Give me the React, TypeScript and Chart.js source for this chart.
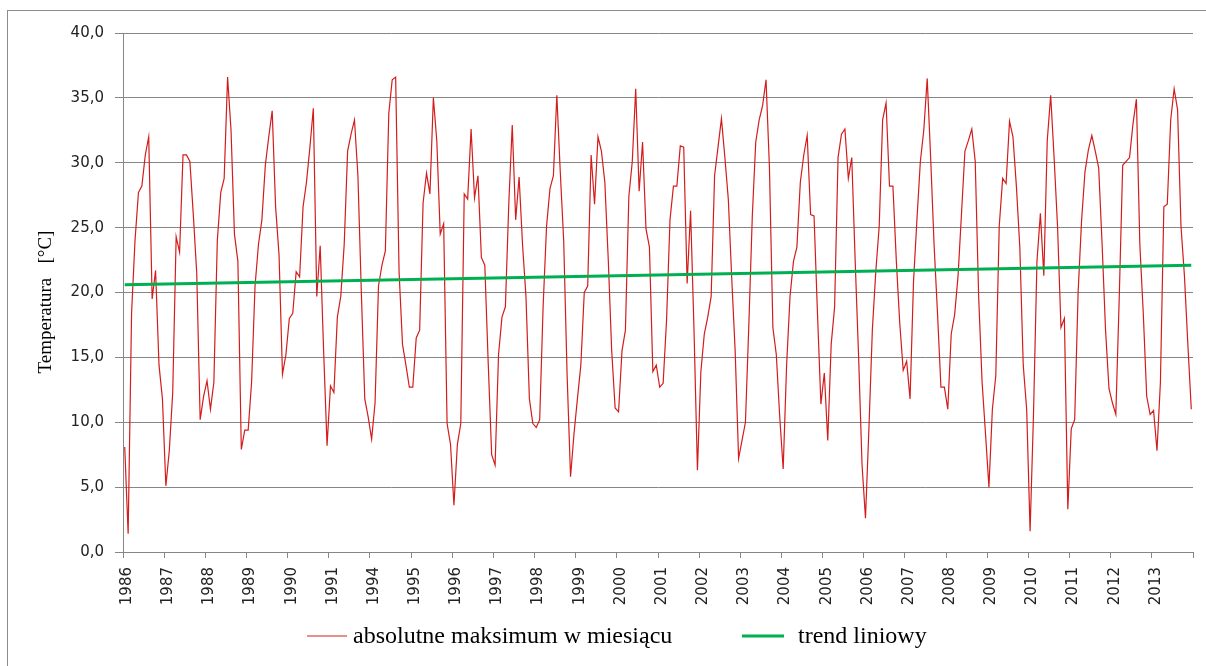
import React, { useEffect, useRef } from 'react';
import { Chart, registerables } from 'chart.js';

Chart.register(...registerables);

// Year labels on the category axis (1992 and 1993 are absent in the source series)
const yearLabels: string[] = [
  '1986', '1987', '1988', '1989', '1990', '1991', '1994', '1995', '1996',
  '1997', '1998', '1999', '2000', '2001', '2002', '2003', '2004', '2005',
  '2006', '2007', '2008', '2009', '2010', '2011', '2012', '2013',
];

// Absolute monthly maximum temperature [°C], 12 values per year, in yearLabels order
const monthlyMax: number[] = [
  8.1, 1.4, 18.4, 24.0, 27.7, 28.2, 30.6, 32.0, 19.5, 21.7, 14.4, 11.8, // 1986
  5.1, 7.8, 12.3, 24.3, 23.1, 30.6, 30.6, 30.1, 26.0, 21.5, 10.2, 12.0, // 1987
  13.2, 11.0, 13.1, 24.0, 27.7, 28.8, 36.6, 32.5, 24.5, 22.4, 7.9, 9.4, // 1988
  9.4, 13.1, 20.5, 23.7, 25.6, 29.8, 32.0, 34.0, 26.6, 22.9, 13.7, 15.2, // 1989
  18.0, 18.4, 21.6, 21.2, 26.6, 28.5, 31.2, 34.2, 19.7, 23.6, 15.5, 8.2, // 1990
  12.8, 12.3, 18.1, 19.7, 23.7, 30.9, 32.2, 33.3, 29.0, 20.0, 11.8, 10.4, // 1991
  8.7, 11.5, 20.5, 22.1, 23.2, 33.8, 36.4, 36.6, 21.6, 16.0, 14.4, 12.7, // 1994
  12.7, 16.5, 17.1, 26.9, 29.2, 27.6, 35.0, 31.7, 24.5, 25.3, 9.9, 8.3, // 1995
  3.6, 8.3, 9.9, 27.6, 27.2, 32.6, 27.3, 29.0, 22.7, 22.1, 14.5, 7.5, // 1996
  6.7, 15.2, 18.1, 18.9, 26.9, 32.9, 25.6, 28.9, 23.7, 19.7, 11.8, 9.9, // 1997
  9.6, 10.2, 18.9, 25.1, 28.0, 29.0, 35.2, 29.3, 24.0, 13.6, 5.8, 9.1, // 1998
  11.8, 14.4, 20.0, 20.5, 30.6, 26.8, 32.0, 30.9, 28.5, 22.5, 15.5, 11.1, // 1999
  10.8, 15.5, 17.1, 27.4, 30.1, 35.7, 27.8, 31.6, 24.9, 23.5, 13.9, 14.4, // 2000
  12.7, 13.0, 17.9, 25.6, 28.2, 28.2, 31.3, 31.2, 20.7, 26.3, 17.1, 6.3, // 2001
  13.9, 16.8, 18.1, 19.7, 29.0, 31.2, 33.4, 30.4, 27.2, 21.1, 15.5, 7.2, // 2002
  8.6, 10.0, 17.6, 25.9, 31.6, 33.3, 34.4, 36.4, 29.6, 17.3, 15.2, 10.4, // 2003
  6.4, 14.4, 19.7, 22.4, 23.5, 28.5, 30.6, 32.1, 26.0, 25.9, 18.4, 11.4, // 2004
  13.8, 8.6, 16.0, 18.9, 30.4, 32.2, 32.6, 28.8, 30.4, 22.4, 15.0, 6.7, // 2005
  2.6, 9.5, 17.1, 21.6, 25.1, 33.3, 34.6, 28.2, 28.2, 22.4, 17.6, 14.0, // 2006
  14.7, 11.8, 20.8, 25.6, 30.1, 32.5, 36.5, 30.4, 23.7, 18.4, 12.7, 12.7, // 2007
  11.0, 16.8, 18.3, 21.3, 26.1, 30.9, 31.7, 32.6, 30.1, 19.7, 13.1, 9.1, // 2008
  5.0, 11.0, 13.6, 25.1, 28.8, 28.4, 33.2, 32.0, 28.2, 23.5, 14.4, 11.0, // 2009
  1.6, 10.7, 22.4, 26.1, 21.3, 31.7, 35.2, 30.4, 25.1, 17.3, 18.0, 3.3, // 2010
  9.5, 10.2, 20.0, 25.5, 29.3, 31.0, 32.1, 30.9, 29.6, 23.7, 17.1, 12.6, // 2011
  11.5, 10.6, 19.7, 29.8, 30.1, 30.4, 33.0, 34.9, 23.7, 18.4, 12.0, 10.6, // 2012
  10.9, 7.8, 13.1, 26.6, 26.8, 33.3, 35.7, 34.1, 25.1, 21.3, 16.0, 11.0, // 2013
];

// Linear trend line end values
const trendValues: number[] = [20.6, 22.1];

const yTicks: number[] = [0, 5, 10, 15, 20, 25, 30, 35, 40];

const seriesLabels: string[] = ['absolutne maksimum w miesiącu', 'trend liniowy'];

// Layout constants
const CW = 1206;
const CH = 666;
const AREA_BOTTOM = 552;
const PAD_BOTTOM = 60;
const GRID = '#868686';
const LEGEND_Y = 636;
const LEGEND_ITEMS = [
  { x0: 307, x1: 347, tx: 353 },
  { x0: 742, x1: 784, tx: 798 },
];

const legendPlugin = {
  id: 'refLegend',
  afterDraw(chart: any) {
    const ctx = chart.ctx as CanvasRenderingContext2D;
    ctx.save();
    chart.data.datasets.forEach((ds: any, i: number) => {
      const pos = LEGEND_ITEMS[i];
      if (!pos) return;
      ctx.strokeStyle = ds.borderColor;
      ctx.lineWidth = ds.borderWidth;
      ctx.beginPath();
      ctx.moveTo(pos.x0, LEGEND_Y);
      ctx.lineTo(pos.x1, LEGEND_Y);
      ctx.stroke();
      ctx.fillStyle = '#000';
      ctx.font = '24px "Liberation Serif"';
      ctx.textBaseline = 'middle';
      ctx.textAlign = 'left';
      ctx.fillText(ds.label, pos.tx, LEGEND_Y + 1);
    });
    ctx.restore();
  },
};

export default function App() {
  const ref = useRef<HTMLCanvasElement | null>(null);

  useEffect(() => {
    if (!ref.current) return;
    const n = monthlyMax.length;
    const lineData = monthlyMax.map((v, i) => ({ x: i + 0.5, y: v }));
    const trendData = [
      { x: 0.5, y: trendValues[0] },
      { x: n - 0.5, y: trendValues[1] },
    ];
    const chart = new Chart(ref.current, {
      type: 'line',
      data: {
        datasets: [
          {
            label: seriesLabels[0],
            data: lineData,
            borderColor: '#d41c1c',
            backgroundColor: '#d41c1c',
            borderWidth: 1.2,
            pointRadius: 0,
            tension: 0,
            fill: false,
            order: 1,
          },
          {
            label: seriesLabels[1],
            data: trendData,
            borderColor: '#00b050',
            backgroundColor: '#00b050',
            borderWidth: 3,
            pointRadius: 0,
            tension: 0,
            fill: false,
            order: 0,
          },
        ],
      },
      plugins: [legendPlugin],
      options: {
        responsive: false,
        animation: false,
        events: [],
        layout: { padding: { left: 0, top: 33, right: 13, bottom: PAD_BOTTOM } },
        plugins: {
          tooltip: { enabled: false },
          legend: { display: false },
        },
        scales: {
          x: {
            type: 'linear',
            min: 0,
            max: n,
            afterFit: (s: any) => {
              s.height = CH - AREA_BOTTOM - PAD_BOTTOM;
              s.paddingLeft = 0;
              s.paddingRight = 0;
            },
            afterBuildTicks: (s: any) => {
              const t = yearLabels.map((_, k) => ({ value: k * 12 }));
              t.push({ value: n });
              s.ticks = t;
            },
            ticks: {
              autoSkip: false,
              minRotation: 90,
              maxRotation: 90,
              padding: 9,
              labelOffset: 4,
              color: '#222',
              font: { family: 'DejaVu Sans', size: 15 },
              callback: (v: any) => {
                const k = Math.round(Number(v) / 12);
                return yearLabels[k] ?? '';
              },
            },
            grid: { drawOnChartArea: false, drawTicks: true, tickLength: 6, color: GRID },
            border: { color: GRID },
          },
          y: {
            type: 'linear',
            min: 0,
            max: 40,
            afterFit: (s: any) => {
              s.width = 123;
            },
            afterBuildTicks: (s: any) => {
              s.ticks = yTicks.map((v) => ({ value: v }));
            },
            ticks: {
              padding: 11,
              color: '#222',
              font: { family: 'DejaVu Sans', size: 15 },
              callback: (v: any) => Number(v).toFixed(1).replace('.', ','),
            },
            grid: { color: GRID, tickLength: 8 },
            border: { color: GRID },
            title: {
              display: true,
              text: 'Temperatura   [°C]    ',
              color: '#000',
              font: { family: 'Liberation Serif', size: 19 },
              padding: { top: 35, bottom: 0 },
            },
          },
        },
      },
    } as any);
    return () => chart.destroy();
  }, []);

  return (
    <div
      style={{
        position: 'absolute',
        left: 0,
        top: 0,
        width: CW,
        height: CH,
        overflow: 'hidden',
        background: '#fff',
      }}
    >
      <div
        style={{
          position: 'absolute',
          left: 7,
          top: 10,
          width: CW + 20,
          height: CH + 20,
          border: '1px solid #8c8c8c',
          boxSizing: 'border-box',
        }}
      />
      <canvas ref={ref} width={CW} height={CH} style={{ position: 'absolute', left: 0, top: 0 }} />
    </div>
  );
}
